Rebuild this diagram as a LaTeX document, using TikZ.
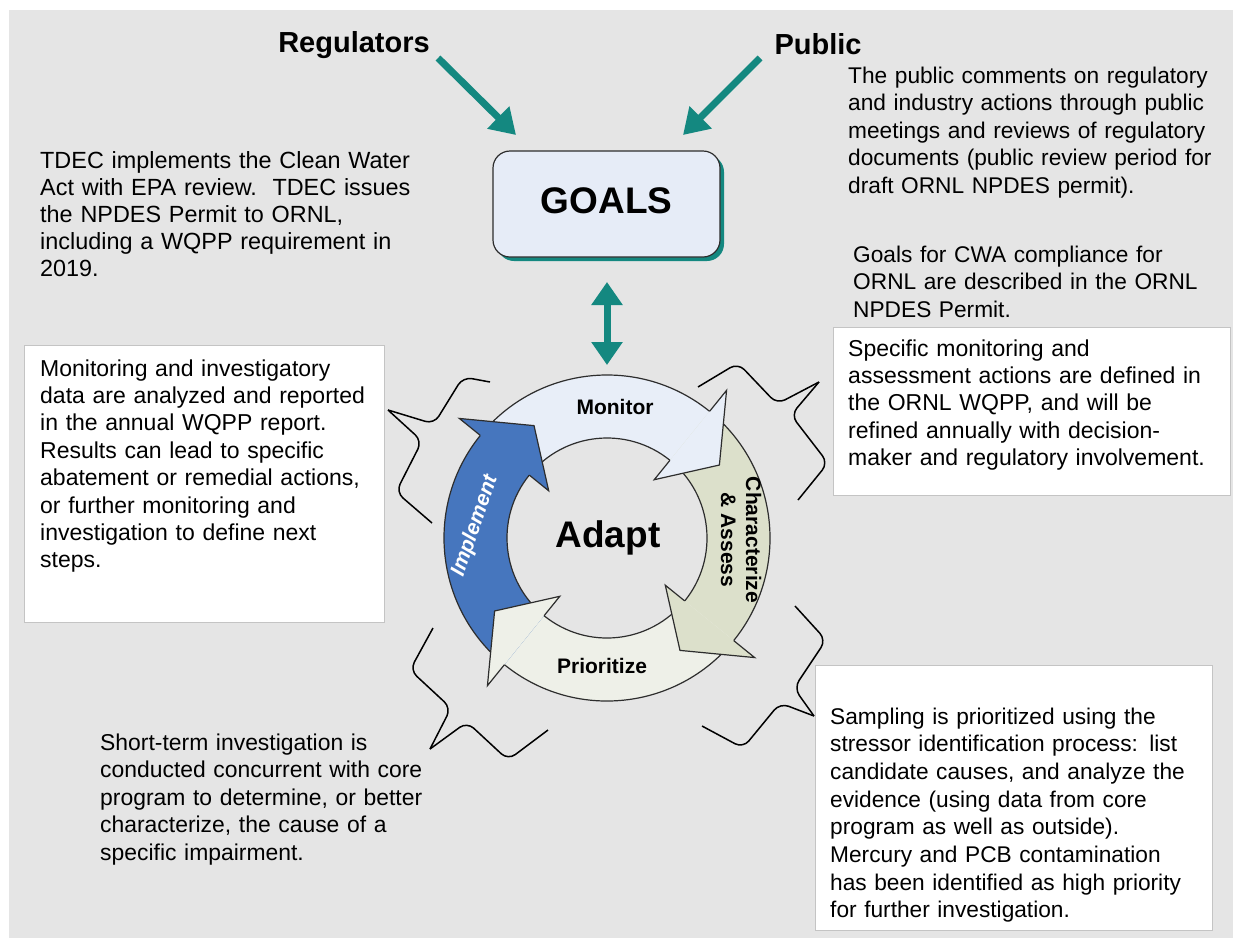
\documentclass[tikz,border=0pt]{standalone}
\usepackage{fontspec}
\setmainfont{Liberation Sans}
\usetikzlibrary{arrows.meta,shadows}

\definecolor{bgc}{RGB}{229,229,229}
\definecolor{tealc}{RGB}{20,136,128}
\definecolor{goalsfill}{RGB}{230,236,247}
\definecolor{monfill}{RGB}{232,238,248}
\definecolor{charfill}{RGB}{220,224,203}
\definecolor{priofill}{RGB}{238,240,232}
\definecolor{implfill}{RGB}{70,118,190}
\definecolor{ringline}{RGB}{45,45,45}
\definecolor{boxline}{RGB}{196,196,196}

\tikzset{
  bodytext/.style={font=\fontsize{23}{27.4}\selectfont, anchor=base west,
    inner sep=0pt, text width=430pt, align=left},
  smalltext/.style={bodytext, font=\fontsize{22.7}{27.5}\selectfont},
  headtext/.style={font=\fontsize{29}{32}\selectfont\bfseries, anchor=base, inner sep=0pt},
  whitebox/.style={draw=boxline, fill=white, line width=1pt, anchor=north west, inner sep=0pt},
  ringedge/.style={draw=ringline, line width=1.2pt},
  cyclelabel/.style={font=\fontsize{21}{25}\selectfont\bfseries, inner sep=0pt},
  tealarrow/.style={draw=tealc, line width=7pt,
    -{Triangle[width=30pt,length=25pt]}},
  tealdouble/.style={draw=tealc, line width=7pt,
    {Triangle[width=30pt,length=23pt]}-{Triangle[width=30pt,length=23pt]}},
  bracket/.style={draw=black, line width=1.5pt, rounded corners=9pt, line join=round}
}

% one segment of the cycle: #1 tail angle, #2 barb angle, #3 fill colour
\newcommand\cyclebody[3]{%
  \fill[#3] (#1:163pt) arc[start angle=#1, end angle={#2-1}, radius=163pt]
    -- ({#2-1}:100pt) arc[start angle={#2-1}, end angle=#1, radius=100pt] -- cycle;
  \draw[ringedge] (#1:163pt) arc[start angle=#1, end angle=#2, radius=163pt];
  \draw[ringedge] (#1:100pt) arc[start angle=#1, end angle=#2, radius=100pt];}
% arrow head of a segment: #1 barb angle, #2 fill colour
\newcommand\cyclehead[2]{%
  \fill[#2] (#1:75pt) -- ({#1-18}:134pt) -- (#1:190pt) -- cycle;
  \draw[ringedge, line join=miter] (#1:100pt) -- (#1:75pt) -- ({#1-18}:134pt)
    -- (#1:190pt) -- (#1:163pt);}

\begin{document}
\begin{tikzpicture}[x=1pt, y=-1pt]
\useasboundingbox (0,0) rectangle (1233,938);
\fill[bgc] (9,10) rectangle (1233,938);

% headings and goals
\node[headtext] (regulators) at (354,52) {Regulators};
\node[headtext] (public) at (818,54) {Public};
\node[draw=ringline, line width=1.2pt, fill=goalsfill, rounded corners=17pt,
  minimum width=227pt, minimum height=106pt,
  drop shadow={shadow xshift=4pt, shadow yshift=-4pt, fill=tealc, opacity=1},
  font=\fontsize{37}{40}\selectfont\bfseries, text height=26.5pt, text depth=8pt]
  (goals) at (606.5,204) {GOALS};

\coordinate (regtail) at (438,58);
\coordinate (regtip) at (516,135);
\coordinate (pubtail) at (760,58);
\coordinate (pubtip) at (683,135);
\coordinate (dtop) at (607,282);
\coordinate (dbot) at (607,365);
\draw[tealarrow] (regtail) -- (regtip);
\draw[tealarrow] (pubtail) -- (pubtip);
\draw[tealdouble] (dtop) -- (dbot);

% free notes
\node[bodytext, font=\fontsize{23.4}{27.2}\selectfont] (tdec) at (40,168) {TDEC implements the Clean Water\\Act with EPA review.\ \ TDEC issues\\the NPDES Permit to ORNL,\\including a WQPP requirement in\\2019.};
\node[smalltext] (pubnote) at (848,83) {The public comments on regulatory\\and industry actions through public\\meetings and reviews of regulatory\\documents (public review period for\\draft ORNL NPDES permit).};
\node[smalltext] (goalnote) at (853,262) {Goals for CWA compliance for\\ORNL are described in the ORNL\\NPDES Permit.};
\node[bodytext, font=\fontsize{22.9}{27.6}\selectfont] (shortterm) at (100,750) {Short-term investigation is\\conducted concurrent with core\\program to determine, or better\\characterize, the cause of a\\specific impairment.};

% boxed notes
\node[whitebox, minimum width=360pt, minimum height=277pt] (leftbox) at (24,345) {};
\node[bodytext] (lefttext) at (40,376) {Monitoring and investigatory\\data are analyzed and reported\\in the annual WQPP report.\\Results can lead to specific\\abatement or remedial actions,\\or further monitoring and\\investigation to define next\\steps.};
\node[whitebox, minimum width=397pt, minimum height=168pt] (rightbox) at (833,327) {};
\node[bodytext] (righttext) at (848,356) {Specific monitoring and\\assessment actions are defined in\\the ORNL WQPP, and will be\\refined annually with decision-\\maker and regulatory involvement.};
\node[whitebox, minimum width=397pt, minimum height=265pt] (sampbox) at (815,665) {};
\node[smalltext, font=\fontsize{22.7}{27.7}\selectfont] (samptext) at (830,724) {Sampling is prioritized using the\\stressor identification process: list\\candidate causes, and analyze the\\evidence (using data from core\\program as well as outside).\\Mercury and PCB contamination\\has been identified as high priority\\for further investigation.};

% braces pointing from the cycle to the notes
\draw[bracket] (490,382) -- (463,377) -- (434,424) -- (388,410);
\draw[bracket] (388,410) -- (422,441) -- (396,492) -- (432,523);
\draw[bracket] (698,387) -- (738,363) -- (777,404) -- (819,382);
\draw[bracket] (819,382) -- (791,415) -- (828,463) -- (798,500);
\draw[bracket] (795,606) -- (826,640) -- (794,688) -- (814,716);
\draw[bracket] (814,716) -- (780,703) -- (743,748) -- (702,726);
\draw[bracket] (433,628) -- (410,670) -- (451,708) -- (430,749);
\draw[bracket] (430,749) -- (467,722) -- (508,760) -- (548,730);

% the adaptive cycle
\begin{scope}[shift={(607,538)}]
  \cyclebody{141}{51}{monfill}
  \cyclebody{51}{-39}{charfill}
  \cyclebody{-39}{-129}{priofill}
  \cyclebody{231}{141}{implfill}
  \cyclehead{51}{monfill}
  \cyclehead{-39}{charfill}
  \cyclehead{-129}{priofill}
  \cyclehead{141}{implfill}
\end{scope}

\node[cyclelabel, anchor=base] (monitor) at (615,414) {Monitor};
\node[cyclelabel, anchor=base] (prioritize) at (602,673) {Prioritize};
\node[cyclelabel, rotate=-90, align=center] (characterize) at (741,540) {Characterize\\\& Assess};
\node[cyclelabel, font=\fontsize{21}{25}\selectfont\bfseries\itshape, text=white, rotate=71] (implement) at (475,526) {Implement};
\node[font=\fontsize{37}{40}\selectfont\bfseries, anchor=base, inner sep=0pt] (adapt) at (608,547) {Adapt};
\end{tikzpicture}
\end{document}
